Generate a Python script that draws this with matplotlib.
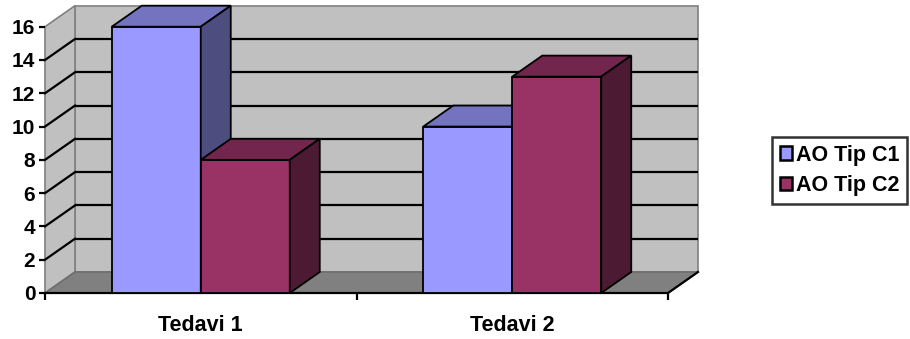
import matplotlib.pyplot as plt
from matplotlib.patches import Polygon, Patch

plt.rcParams['font.family'] = 'Liberation Sans'
plt.rcParams['font.weight'] = 'bold'

categories = ['Tedavi 1', 'Tedavi 2']
series_names = ['AO Tip C1', 'AO Tip C2']
tip_c1 = [16, 10]
tip_c2 = [8, 13]
yticks = [0, 2, 4, 6, 8, 10, 12, 14, 16]

# face colours: front, top, side
colors = [('#9999FF', '#7373BF', '#4D4D80'),
          ('#993366', '#73264D', '#4D1A33')]

W, H = 910, 339
fig = plt.figure(figsize=(W / 100, H / 100), dpi=100)
ax = fig.add_axes([45 / W, 46 / H, 623 / W, 266.3 / H])
ax.set_xlim(-0.5, 1.5)
ax.set_ylim(0, 16)

# depth offset of the 3d effect in data units
dx = 30 / 311.5
dy = 21 / 16.64
ymax = yticks[-1]
x0, x1 = -0.5, 1.5

# walls and floor
ax.add_patch(Polygon([(x0 + dx, dy), (x1 + dx, dy), (x1 + dx, ymax + dy), (x0 + dx, ymax + dy)],
                     closed=True, facecolor='#C0C0C0', edgecolor='#808080', lw=1.2, zorder=1, clip_on=False))
ax.add_patch(Polygon([(x0, 0), (x0 + dx, dy), (x0 + dx, ymax + dy), (x0, ymax)],
                     closed=True, facecolor='#C0C0C0', edgecolor='#808080', lw=1.2, zorder=1, clip_on=False))
ax.add_patch(Polygon([(x0, 0), (x1, 0), (x1 + dx, dy), (x0 + dx, dy)],
                     closed=True, facecolor='#808080', edgecolor='#6E6E6E', lw=1.2, zorder=1, clip_on=False))

# gridlines on the back and left walls
for v in yticks[1:-1]:
    ax.plot([x0 + dx, x1 + dx], [v + dy, v + dy], color='black', lw=1.6, zorder=2, clip_on=False,
            solid_capstyle='butt')
    ax.plot([x0, x0 + dx], [v, v + dy], color='black', lw=1.6, zorder=2, clip_on=False)

# floor front edge and right edge
ax.plot([x0, x1, x1 + dx], [0, 0, dy], color='black', lw=1.6, zorder=2, clip_on=False)


def bar3d(left, right, h, cols):
    front, top, side = cols
    kw = dict(closed=True, edgecolor='black', lw=1.3, zorder=3, clip_on=False)
    ax.add_patch(Polygon([(left, 0), (right, 0), (right, h), (left, h)], facecolor=front, **kw))
    ax.add_patch(Polygon([(left, h), (right, h), (right + dx, h + dy), (left + dx, h + dy)], facecolor=top, **kw))
    ax.add_patch(Polygon([(right, 0), (right + dx, dy), (right + dx, h + dy), (right, h)], facecolor=side, **kw))


bw = 2 / 7
for i in range(len(categories)):
    bar3d(i - bw, i, tip_c1[i], colors[0])
    bar3d(i, i + bw, tip_c2[i], colors[1])

for s in ax.spines.values():
    s.set_visible(False)

ax.set_yticks(yticks)
ax.set_yticklabels([str(v) for v in yticks], fontweight='bold', fontsize=15)
ax.tick_params(axis='y', length=4, width=1.6, pad=3)
ax.set_xticks(range(len(categories)))
ax.set_xticklabels(categories, fontweight='bold', fontsize=15.5)
ax.set_xticks([-0.5, 0.5, 1.5], minor=True)
ax.tick_params(axis='x', which='major', length=0, pad=16)
ax.tick_params(axis='x', which='minor', length=5, width=1.6)

handles = [Patch(facecolor=c[0], edgecolor='black', lw=1.8) for c in colors]
leg = fig.legend(handles, series_names, loc='upper left', bbox_to_anchor=(772 / W, 1 - 137 / H),
                 frameon=True, fancybox=False, edgecolor='black',
                 prop={'weight': 'bold', 'size': 15.5},
                 handlelength=0.6, handleheight=0.6, handletextpad=0.15, borderpad=0.35,
                 labelspacing=0.45, borderaxespad=0)
leg.get_frame().set_linewidth(1.8)

fig.savefig('out.png', dpi=100)
